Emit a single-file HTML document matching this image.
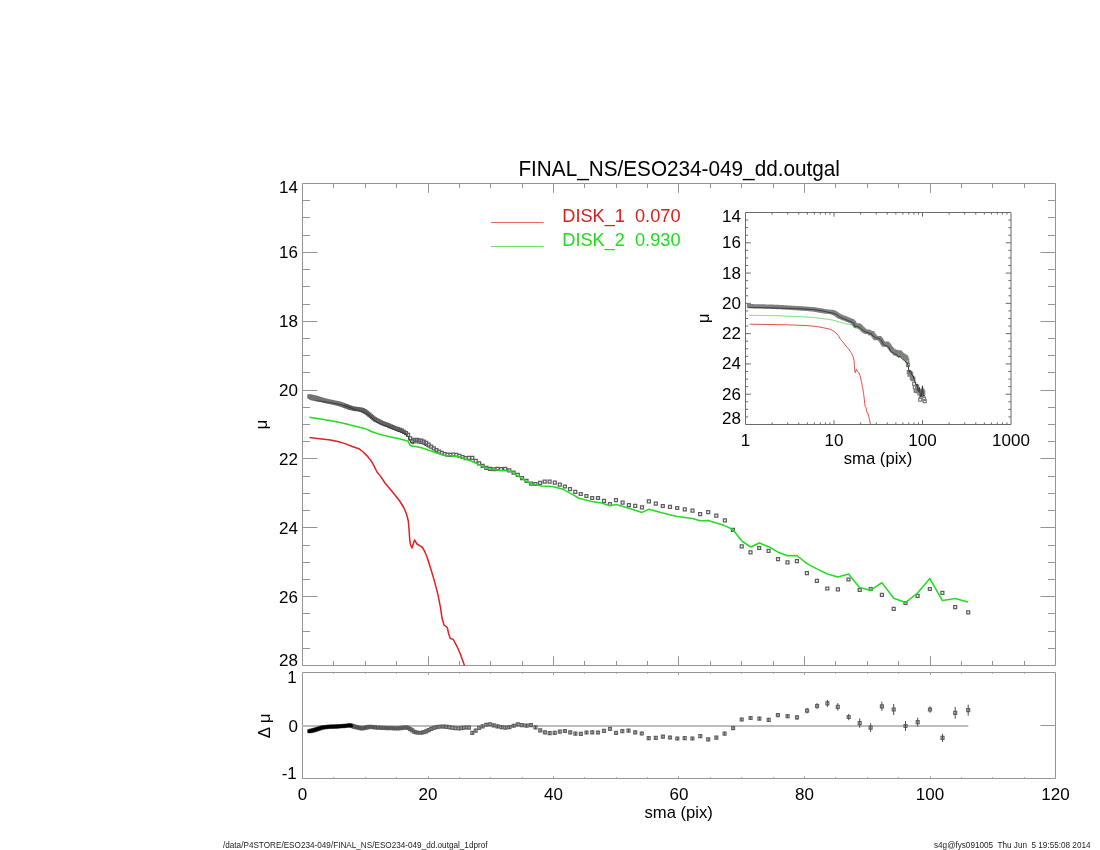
<!DOCTYPE html><html><head><meta charset="utf-8"><style>html,body{margin:0;padding:0;background:#fff;}svg{display:block;}text{font-family:"Liberation Sans",Arial,sans-serif;}</style></head><body>
<svg width="1100" height="850" viewBox="0 0 1100 850">
<rect x="0" y="0" width="1100" height="850" fill="#fff"/>
<path d="M302.5 183.5H1055.5V665.5H302.5ZM333.5 665.5v-4.6M333.5 183.5v4.6M365.5 665.5v-4.6M365.5 183.5v4.6M396.5 665.5v-4.6M396.5 183.5v4.6M428.5 665.5v-9.3M428.5 183.5v9.3M459.5 665.5v-4.6M459.5 183.5v4.6M490.5 665.5v-4.6M490.5 183.5v4.6M522.5 665.5v-4.6M522.5 183.5v4.6M553.5 665.5v-9.3M553.5 183.5v9.3M584.5 665.5v-4.6M584.5 183.5v4.6M616.5 665.5v-4.6M616.5 183.5v4.6M647.5 665.5v-4.6M647.5 183.5v4.6M678.5 665.5v-9.3M678.5 183.5v9.3M710.5 665.5v-4.6M710.5 183.5v4.6M741.5 665.5v-4.6M741.5 183.5v4.6M773.5 665.5v-4.6M773.5 183.5v4.6M804.5 665.5v-9.3M804.5 183.5v9.3M835.5 665.5v-4.6M835.5 183.5v4.6M867.5 665.5v-4.6M867.5 183.5v4.6M898.5 665.5v-4.6M898.5 183.5v4.6M930.5 665.5v-9.3M930.5 183.5v9.3M961.5 665.5v-4.6M961.5 183.5v4.6M992.5 665.5v-4.6M992.5 183.5v4.6M1024.5 665.5v-4.6M1024.5 183.5v4.6M302.5 200.5h7.5M1055.5 200.5h-7.5M302.5 217.5h7.5M1055.5 217.5h-7.5M302.5 235.5h7.5M1055.5 235.5h-7.5M302.5 252.5h15M1055.5 252.5h-15M302.5 269.5h7.5M1055.5 269.5h-7.5M302.5 286.5h7.5M1055.5 286.5h-7.5M302.5 304.5h7.5M1055.5 304.5h-7.5M302.5 321.5h15M1055.5 321.5h-15M302.5 338.5h7.5M1055.5 338.5h-7.5M302.5 355.5h7.5M1055.5 355.5h-7.5M302.5 372.5h7.5M1055.5 372.5h-7.5M302.5 390.5h15M1055.5 390.5h-15M302.5 407.5h7.5M1055.5 407.5h-7.5M302.5 424.5h7.5M1055.5 424.5h-7.5M302.5 441.5h7.5M1055.5 441.5h-7.5M302.5 458.5h15M1055.5 458.5h-15M302.5 476.5h7.5M1055.5 476.5h-7.5M302.5 493.5h7.5M1055.5 493.5h-7.5M302.5 510.5h7.5M1055.5 510.5h-7.5M302.5 527.5h15M1055.5 527.5h-15M302.5 545.5h7.5M1055.5 545.5h-7.5M302.5 562.5h7.5M1055.5 562.5h-7.5M302.5 579.5h7.5M1055.5 579.5h-7.5M302.5 596.5h15M1055.5 596.5h-15M302.5 613.5h7.5M1055.5 613.5h-7.5M302.5 631.5h7.5M1055.5 631.5h-7.5M302.5 648.5h7.5M1055.5 648.5h-7.5" fill="none" stroke="#959595" stroke-width="1"/>
<path d="M302.5 672.5H1055.5V778.5H302.5ZM333.5 778.5v-1.2M333.5 672.5v1.2M365.5 778.5v-1.2M365.5 672.5v1.2M396.5 778.5v-1.2M396.5 672.5v1.2M428.5 778.5v-2.2M428.5 672.5v2.2M459.5 778.5v-1.2M459.5 672.5v1.2M490.5 778.5v-1.2M490.5 672.5v1.2M522.5 778.5v-1.2M522.5 672.5v1.2M553.5 778.5v-2.2M553.5 672.5v2.2M584.5 778.5v-1.2M584.5 672.5v1.2M616.5 778.5v-1.2M616.5 672.5v1.2M647.5 778.5v-1.2M647.5 672.5v1.2M678.5 778.5v-2.2M678.5 672.5v2.2M710.5 778.5v-1.2M710.5 672.5v1.2M741.5 778.5v-1.2M741.5 672.5v1.2M773.5 778.5v-1.2M773.5 672.5v1.2M804.5 778.5v-2.2M804.5 672.5v2.2M835.5 778.5v-1.2M835.5 672.5v1.2M867.5 778.5v-1.2M867.5 672.5v1.2M898.5 778.5v-1.2M898.5 672.5v1.2M930.5 778.5v-2.2M930.5 672.5v2.2M961.5 778.5v-1.2M961.5 672.5v1.2M992.5 778.5v-1.2M992.5 672.5v1.2M1024.5 778.5v-1.2M1024.5 672.5v1.2M1055.5 725.5h-15" fill="none" stroke="#959595" stroke-width="1"/>
<path d="M302.5 726H968.28" fill="none" stroke="#bdbdbd" stroke-width="2"/>
<path d="M307.89 394.92h2.95v2.95h-2.95zM308.03 394.97h2.95v2.95h-2.95zM308.17 395.01h2.95v2.95h-2.95zM308.31 395.06h2.95v2.95h-2.95zM308.46 395.1h2.95v2.95h-2.95zM308.61 395.14h2.95v2.95h-2.95zM308.76 395.18h2.95v2.95h-2.95zM308.91 395.21h2.95v2.95h-2.95zM309.07 395.24h2.95v2.95h-2.95zM309.23 395.28h2.95v2.95h-2.95zM309.39 395.32h2.95v2.95h-2.95zM309.56 395.35h2.95v2.95h-2.95zM309.73 395.39h2.95v2.95h-2.95zM309.91 395.43h2.95v2.95h-2.95zM310.08 395.47h2.95v2.95h-2.95zM310.27 395.51h2.95v2.95h-2.95zM310.45 395.55h2.95v2.95h-2.95zM310.64 395.59h2.95v2.95h-2.95zM310.83 395.63h2.95v2.95h-2.95zM311.03 395.68h2.95v2.95h-2.95zM311.23 395.72h2.95v2.95h-2.95zM311.43 395.76h2.95v2.95h-2.95zM311.64 395.81h2.95v2.95h-2.95zM311.85 395.86h2.95v2.95h-2.95zM312.07 395.9h2.95v2.95h-2.95zM312.29 395.95h2.95v2.95h-2.95zM312.51 396h2.95v2.95h-2.95zM312.74 396.05h2.95v2.95h-2.95zM312.98 396.1h2.95v2.95h-2.95zM313.22 396.16h2.95v2.95h-2.95zM313.46 396.21h2.95v2.95h-2.95zM313.71 396.28h2.95v2.95h-2.95zM313.96 396.37h2.95v2.95h-2.95zM314.22 396.45h2.95v2.95h-2.95zM314.49 396.53h2.95v2.95h-2.95zM314.76 396.62h2.95v2.95h-2.95zM315.03 396.71h2.95v2.95h-2.95zM315.31 396.8h2.95v2.95h-2.95zM315.6 396.89h2.95v2.95h-2.95zM315.89 396.98h2.95v2.95h-2.95zM316.18 397.08h2.95v2.95h-2.95zM316.49 397.17h2.95v2.95h-2.95zM316.8 397.27h2.95v2.95h-2.95zM317.11 397.37h2.95v2.95h-2.95zM317.43 397.48h2.95v2.95h-2.95zM317.76 397.58h2.95v2.95h-2.95zM318.1 397.69h2.95v2.95h-2.95zM318.44 397.8h2.95v2.95h-2.95zM318.79 397.9h2.95v2.95h-2.95zM319.14 398h2.95v2.95h-2.95zM319.5 398.1h2.95v2.95h-2.95zM319.87 398.2h2.95v2.95h-2.95zM320.25 398.31h2.95v2.95h-2.95zM320.64 398.42h2.95v2.95h-2.95zM321.03 398.53h2.95v2.95h-2.95zM321.43 398.64h2.95v2.95h-2.95zM321.84 398.75h2.95v2.95h-2.95zM322.25 398.87h2.95v2.95h-2.95zM322.68 398.99h2.95v2.95h-2.95zM323.11 399.11h2.95v2.95h-2.95zM323.55 399.23h2.95v2.95h-2.95zM324 399.33h2.95v2.95h-2.95zM324.46 399.43h2.95v2.95h-2.95zM324.93 399.53h2.95v2.95h-2.95zM325.41 399.64h2.95v2.95h-2.95zM325.9 399.75h2.95v2.95h-2.95zM326.39 399.86h2.95v2.95h-2.95zM326.9 399.97h2.95v2.95h-2.95zM327.42 400.08h2.95v2.95h-2.95zM327.95 400.2h2.95v2.95h-2.95zM328.48 400.32h2.95v2.95h-2.95zM329.03 400.43h2.95v2.95h-2.95zM329.59 400.54h2.95v2.95h-2.95zM330.17 400.65h2.95v2.95h-2.95zM330.75 400.77h2.95v2.95h-2.95zM331.34 400.89h2.95v2.95h-2.95zM331.95 401.01h2.95v2.95h-2.95zM332.57 401.13h2.95v2.95h-2.95zM333.2 401.26h2.95v2.95h-2.95zM333.84 401.4h2.95v2.95h-2.95zM334.5 401.56h2.95v2.95h-2.95zM335.17 401.72h2.95v2.95h-2.95zM335.85 401.88h2.95v2.95h-2.95zM336.55 402.05h2.95v2.95h-2.95zM337.26 402.22h2.95v2.95h-2.95zM337.98 402.39h2.95v2.95h-2.95zM338.72 402.6h2.95v2.95h-2.95zM339.47 402.87h2.95v2.95h-2.95zM340.24 403.14h2.95v2.95h-2.95zM341.03 403.43h2.95v2.95h-2.95zM341.83 403.71h2.95v2.95h-2.95zM342.64 404.01h2.95v2.95h-2.95zM343.48 404.31h2.95v2.95h-2.95z" fill="none" stroke="#727272" stroke-width="1.25"/>
<path d="M344.33 404.63h2.95v2.95h-2.95zM345.19 404.96h2.95v2.95h-2.95zM346.08 405.29h2.95v2.95h-2.95zM346.98 405.64h2.95v2.95h-2.95zM347.9 405.99h2.95v2.95h-2.95zM348.83 406.3h2.95v2.95h-2.95zM349.79 406.53h2.95v2.95h-2.95zM350.76 406.76h2.95v2.95h-2.95zM351.76 407h2.95v2.95h-2.95zM352.77 407.24h2.95v2.95h-2.95zM353.81 407.45h2.95v2.95h-2.95zM354.86 407.56h2.95v2.95h-2.95zM355.94 407.67h2.95v2.95h-2.95zM357.04 407.78h2.95v2.95h-2.95zM358.16 407.89h2.95v2.95h-2.95zM359.3 408.16h2.95v2.95h-2.95zM360.47 408.51h2.95v2.95h-2.95zM361.66 408.9h2.95v2.95h-2.95zM362.87 409.63h2.95v2.95h-2.95zM364.11 410.37h2.95v2.95h-2.95zM365.37 411.27h2.95v2.95h-2.95zM366.65 412.26h2.95v2.95h-2.95zM367.97 413.32h2.95v2.95h-2.95zM369.31 414.53h2.95v2.95h-2.95zM370.67 415.74h2.95v2.95h-2.95zM372.06 416.86h2.95v2.95h-2.95zM373.49 417.99h2.95v2.95h-2.95zM374.93 418.73h2.95v2.95h-2.95zM376.41 419.47h2.95v2.95h-2.95zM377.92 420.18h2.95v2.95h-2.95zM379.46 420.89h2.95v2.95h-2.95zM381.03 421.58h2.95v2.95h-2.95zM382.63 422.26h2.95v2.95h-2.95zM384.26 422.86h2.95v2.95h-2.95zM385.92 423.48h2.95v2.95h-2.95zM387.62 424.16h2.95v2.95h-2.95zM389.35 424.86h2.95v2.95h-2.95zM391.12 425.56h2.95v2.95h-2.95zM392.92 426.28h2.95v2.95h-2.95zM394.76 427.01h2.95v2.95h-2.95zM396.63 427.7h2.95v2.95h-2.95zM398.55 428.43h2.95v2.95h-2.95zM400.5 429.21h2.95v2.95h-2.95zM402.49 430.34h2.95v2.95h-2.95zM404.52 431.72h2.95v2.95h-2.95zM406.59 433.43h2.95v2.95h-2.95zM408.7 436.98h2.95v2.95h-2.95zM410.85 439.56h2.95v2.95h-2.95zM413.05 438.46h2.95v2.95h-2.95zM415.29 438.48h2.95v2.95h-2.95zM417.57 438.82h2.95v2.95h-2.95zM419.9 439.16h2.95v2.95h-2.95zM422.28 440.22h2.95v2.95h-2.95zM424.71 441.46h2.95v2.95h-2.95zM427.18 443.1h2.95v2.95h-2.95zM429.7 445.11h2.95v2.95h-2.95zM432.28 446.96h2.95v2.95h-2.95zM434.9 448.53h2.95v2.95h-2.95zM437.58 450.05h2.95v2.95h-2.95zM440.31 451.42h2.95v2.95h-2.95zM443.1 452.52h2.95v2.95h-2.95zM445.94 453.09h2.95v2.95h-2.95zM448.84 453.31h2.95v2.95h-2.95zM451.79 453.04h2.95v2.95h-2.95zM454.81 453.44h2.95v2.95h-2.95zM457.88 454.34h2.95v2.95h-2.95zM461.02 455.52h2.95v2.95h-2.95zM464.22 456.71h2.95v2.95h-2.95zM467.48 456.41h2.95v2.95h-2.95zM470.81 456.38h2.95v2.95h-2.95zM474.21 459.39h2.95v2.95h-2.95zM477.67 461.96h2.95v2.95h-2.95zM481.21 464.34h2.95v2.95h-2.95zM484.81 466.43h2.95v2.95h-2.95zM488.48 467.42h2.95v2.95h-2.95zM492.23 467.75h2.95v2.95h-2.95zM496.06 467.47h2.95v2.95h-2.95zM499.62 467.62h2.95v2.95h-2.95zM503.72 467.32h2.95v2.95h-2.95zM507.82 468.92h2.95v2.95h-2.95zM512.12 471.12h2.95v2.95h-2.95zM516.32 473.42h2.95v2.95h-2.95zM520.62 476.62h2.95v2.95h-2.95zM525.02 479.42h2.95v2.95h-2.95zM529.62 482.12h2.95v2.95h-2.95zM534.02 482.52h2.95v2.95h-2.95zM538.62 481.42h2.95v2.95h-2.95zM543.23 480.12h2.95v2.95h-2.95zM548.12 480.12h2.95v2.95h-2.95zM553.32 481.22h2.95v2.95h-2.95zM558.32 483.22h2.95v2.95h-2.95zM563.42 485.02h2.95v2.95h-2.95zM568.52 487.62h2.95v2.95h-2.95zM573.82 490.32h2.95v2.95h-2.95zM579.23 492.52h2.95v2.95h-2.95zM584.92 494.52h2.95v2.95h-2.95zM590.73 496.52h2.95v2.95h-2.95zM596.52 496.52h2.95v2.95h-2.95zM602.52 499.32h2.95v2.95h-2.95zM608.52 502.52h2.95v2.95h-2.95zM614.52 498.62h2.95v2.95h-2.95zM621.12 501.22h2.95v2.95h-2.95zM627.42 503.62h2.95v2.95h-2.95zM633.73 504.32h2.95v2.95h-2.95zM640.52 505.92h2.95v2.95h-2.95zM647.42 499.92h2.95v2.95h-2.95zM654.32 502.12h2.95v2.95h-2.95zM661.32 504.52h2.95v2.95h-2.95zM668.52 505.42h2.95v2.95h-2.95zM675.73 506.52h2.95v2.95h-2.95zM683.32 507.92h2.95v2.95h-2.95zM691.02 509.12h2.95v2.95h-2.95zM698.62 512.73h2.95v2.95h-2.95zM706.73 510.62h2.95v2.95h-2.95zM714.82 514.12h2.95v2.95h-2.95zM723.42 518.92h2.95v2.95h-2.95zM731.42 528.32h2.95v2.95h-2.95zM740.23 544.82h2.95v2.95h-2.95zM749.02 550.82h2.95v2.95h-2.95zM757.73 546.52h2.95v2.95h-2.95zM767.12 549.32h2.95v2.95h-2.95zM776.52 557.62h2.95v2.95h-2.95zM786.02 560.82h2.95v2.95h-2.95zM795.42 559.73h2.95v2.95h-2.95zM805.42 571.73h2.95v2.95h-2.95zM815.42 579.42h2.95v2.95h-2.95zM825.82 587.02h2.95v2.95h-2.95zM836.42 587.82h2.95v2.95h-2.95zM847.02 578.02h2.95v2.95h-2.95zM858.23 588.52h2.95v2.95h-2.95zM869.23 587.52h2.95v2.95h-2.95zM880.42 593.42h2.95v2.95h-2.95zM892.23 607.42h2.95v2.95h-2.95zM904.02 601.52h2.95v2.95h-2.95zM916.12 594.42h2.95v2.95h-2.95zM928.32 587.52h2.95v2.95h-2.95zM940.92 591.32h2.95v2.95h-2.95zM953.73 605.62h2.95v2.95h-2.95zM966.73 610.92h2.95v2.95h-2.95z" fill="none" stroke="#5e5e5e" stroke-width="1.25"/>
<polyline fill="none" stroke="#333" stroke-width="1" stroke-linejoin="round"  points="309.37,399.3 309.5,399.34 309.64,399.39 309.79,399.43 309.93,399.48 310.08,399.52 310.23,399.55 310.39,399.59 310.54,399.62 310.71,399.66 310.87,399.69 311.04,399.73 311.21,399.77 311.38,399.8 311.56,399.84 311.74,399.88 311.93,399.92 312.11,399.96 312.31,400.01 312.5,400.05 312.7,400.09 312.91,400.14 313.11,400.19 313.33,400.23 313.54,400.28 313.76,400.33 313.99,400.38 314.22,400.43 314.45,400.48 314.69,400.53 314.94,400.59 315.18,400.66 315.44,400.74 315.7,400.82 315.96,400.88 316.23,400.9 316.51,400.93 316.79,400.95 317.07,400.97 317.36,401 317.66,401.02 317.96,401.05 318.27,401.08 318.59,401.1 318.91,401.13 319.24,401.16 319.57,401.19 319.91,401.22 320.26,401.24 320.62,401.25 320.98,401.27 321.35,401.28 321.73,401.3 322.11,401.36 322.5,401.44 322.9,401.52 323.31,401.59 323.73,401.67 324.15,401.76 324.58,401.84 325.03,401.92 325.48,401.98 325.94,402.04 326.41,402.1 326.88,402.17 327.37,402.23 327.87,402.3 328.38,402.36 328.89,402.43 329.42,402.52 329.96,402.63 330.51,402.73 331.07,402.83 331.64,402.94 332.22,403.04 332.82,403.15 333.42,403.26 334.04,403.37 334.67,403.48 335.32,403.61 335.97,403.76 336.64,403.9 337.33,404.03 338.02,404.16 338.73,404.29 339.46,404.43 340.2,404.6 340.95,404.83 341.72,405.07 342.5,405.31 343.3,405.56 344.12,405.8 344.95,406.04 345.8,406.29 346.67,406.56 347.55,406.83 348.45,407.1 349.37,407.38 350.31,407.66 351.26,408.1 352.24,408.55 353.23,409.01 354.25,409.48 355.28,409.93 356.34,410.19 357.42,410.47 358.51,410.75 359.63,411.03 360.78,411.48 361.94,411.96 363.13,412.19 364.34,412.74 365.58,413.31 366.84,414.03 368.13,414.83 369.44,415.71 370.78,416.95 372.15,418.28 373.54,419.51 374.96,420.77 376.41,421.63 377.89,422.43 379.4,423.2 380.93,423.98 382.5,424.72 384.1,425.47 385.73,426.13 387.4,426.82 389.1,427.53 390.83,428.26 392.6,429 394.4,429.76 396.24,430.52 398.11,431.24 400.02,431.82 401.97,432.42 403.96,433.36 405.99,434.56 408.06,436.64 410.17,441.03 412.33,443.94 414.52,442.84 416.76,442.86 419.05,443.2 421.38,443.54 423.76,444.6 426.18,445.83 428.66,447.48"/>
<polyline fill="none" stroke="#22dd22" stroke-width="1.55" stroke-linejoin="round"  points="309.37,417.3 309.5,417.3 309.64,417.32 309.79,417.34 309.93,417.37 310.08,417.39 310.23,417.41 310.39,417.43 310.54,417.46 310.71,417.48 310.87,417.51 311.04,417.53 311.21,417.56 311.38,417.58 311.56,417.61 311.74,417.64 311.93,417.67 312.11,417.7 312.31,417.72 312.5,417.75 312.7,417.78 312.91,417.82 313.11,417.85 313.33,417.88 313.54,417.91 313.76,417.94 313.99,417.98 314.22,418.01 314.45,418.05 314.69,418.09 314.94,418.12 315.18,418.16 315.44,418.2 315.7,418.24 315.96,418.28 316.23,418.32 316.51,418.36 316.79,418.4 317.07,418.45 317.36,418.49 317.66,418.53 317.96,418.58 318.27,418.63 318.59,418.67 318.91,418.72 319.24,418.77 319.57,418.82 319.91,418.88 320.26,418.93 320.62,418.98 320.98,419.04 321.35,419.09 321.73,419.16 322.11,419.22 322.5,419.29 322.9,419.36 323.31,419.43 323.73,419.51 324.15,419.58 324.58,419.66 325.03,419.73 325.48,419.81 325.94,419.89 326.41,419.97 326.88,420.06 327.37,420.14 327.87,420.23 328.38,420.32 328.89,420.41 329.42,420.5 329.96,420.59 330.51,420.69 331.07,420.79 331.64,420.88 332.22,420.99 332.82,421.1 333.42,421.23 334.04,421.35 334.67,421.48 335.32,421.61 335.97,421.74 336.64,421.88 337.33,422.01 338.02,422.15 338.73,422.3 339.46,422.44 340.2,422.59 340.95,422.75 341.72,422.9 342.5,423.06 343.3,423.23 344.12,423.43 344.95,423.63 345.8,423.84 346.67,424.06 347.55,424.28 348.45,424.5 349.37,424.73 350.31,424.96 351.26,425.2 352.24,425.44 353.23,425.69 354.25,425.94 355.28,426.19 356.34,426.45 357.42,426.72 358.51,426.99 359.63,427.27 360.78,427.55 361.94,427.84 363.13,428.14 364.34,428.44 365.58,428.86 366.84,429.41 368.13,429.97 369.44,430.57 370.78,431.21 372.15,431.85 373.54,432.32 374.96,432.81 376.41,433.3 377.89,433.76 379.4,434.17 380.93,434.59 382.5,435.01 384.1,435.42 385.73,435.83 387.4,436.24 389.1,436.66 390.83,437.08 392.6,437.37 394.4,437.65 396.24,437.96 398.11,438.48 400.02,438.93 401.97,439.39 403.96,439.96 405.99,440.55 408.06,441.19 410.17,445.37 412.33,446.33 414.52,446.34 416.76,446.72 419.05,447.27 421.38,447.73 423.76,448.48 426.18,449.33 428.66,450.19 431.18,451.07 433.75,451.98 436.38,452.92 439.05,453.87 441.79,454.85 444.57,455.54 447.41,455.67 450.31,455.81 453.27,455.94 456.28,456.36 459.36,456.97 462.5,457.97 465.7,459.09 468.96,460.22 472.29,461.52 475.68,463.05 479.15,464.61 482.68,466.18 486.28,467.72 489.96,469.14 493.71,469.44 497.53,469.75 500,470.2 510.9,471.3 521.8,478.4 530.5,483.8 541.5,486 552.4,486.5 563.3,489.3 570.9,493.6 579.6,498.5 590.5,501.3 601.5,502.9 610,505.8 616.1,504.6 628.9,508.2 642,512.4 648.9,509.3 662.7,513.1 677.2,516.4 692.5,518.5 700.1,520.7 708.2,520.4 716.3,523 724.5,525.6 732.8,529.5 741.6,540.8 750.6,547 759.4,543 768.6,546.7 778,552.2 787.5,555.8 796.9,555.5 806.9,563.6 816.9,568.9 827.3,574 837.9,576.9 848.5,574 859.5,587.5 870.7,590.2 881.9,582.6 893.7,598.3 905.5,602.5 917.5,593.1 929.8,578.5 942.4,600.6 955.2,598.5 967.8,602.1"/>
<polyline fill="none" stroke="#dd2222" stroke-width="1.5" stroke-linejoin="round"  points="309.5,437.5 319.5,438.7 330.5,440.1 337.7,441.5 345,443.6 352.3,446.5 358.8,448.7 363.2,452 366.8,455.6 370.5,460 373.4,464.7 377,472 380.6,476.4 385,483 390,489 395,495 400,501.5 404,508 406.5,514 408.3,521 409,529 409.7,539 410.5,545 412,548 414.5,540 417,544 420,545.8 422,547 424.5,551 427,557 430.6,568.3 434.6,581.6 438,594.9 440.6,608.2 441.9,617.5 443.9,624.8 447.3,627.5 448.6,633.5 450.3,638.5 453.2,639.4 457.2,646.8 460.6,654.7 464.5,665.4"/>
<path d="M307.89 729.79h2.95v2.95h-2.95zM308.03 729.75h2.95v2.95h-2.95zM308.17 729.72h2.95v2.95h-2.95zM308.31 729.68h2.95v2.95h-2.95zM308.46 729.65h2.95v2.95h-2.95zM308.61 729.61h2.95v2.95h-2.95zM308.76 729.57h2.95v2.95h-2.95zM308.91 729.54h2.95v2.95h-2.95zM309.07 729.5h2.95v2.95h-2.95zM309.23 729.46h2.95v2.95h-2.95zM309.39 729.42h2.95v2.95h-2.95zM309.56 729.38h2.95v2.95h-2.95zM309.73 729.33h2.95v2.95h-2.95zM309.91 729.29h2.95v2.95h-2.95zM310.08 729.25h2.95v2.95h-2.95zM310.27 729.2h2.95v2.95h-2.95zM310.45 729.16h2.95v2.95h-2.95zM310.64 729.11h2.95v2.95h-2.95zM310.83 729.06h2.95v2.95h-2.95zM311.03 729.02h2.95v2.95h-2.95zM311.23 728.97h2.95v2.95h-2.95zM311.43 728.92h2.95v2.95h-2.95zM311.64 728.87h2.95v2.95h-2.95zM311.85 728.81h2.95v2.95h-2.95zM312.07 728.76h2.95v2.95h-2.95zM312.29 728.71h2.95v2.95h-2.95zM312.51 728.65h2.95v2.95h-2.95zM312.74 728.59h2.95v2.95h-2.95zM312.98 728.54h2.95v2.95h-2.95zM313.22 728.46h2.95v2.95h-2.95zM313.46 728.38h2.95v2.95h-2.95zM313.71 728.3h2.95v2.95h-2.95zM313.96 728.22h2.95v2.95h-2.95zM314.22 728.13h2.95v2.95h-2.95zM314.49 728.04h2.95v2.95h-2.95zM314.76 727.96h2.95v2.95h-2.95zM315.03 727.87h2.95v2.95h-2.95zM315.31 727.77h2.95v2.95h-2.95zM315.6 727.68h2.95v2.95h-2.95zM315.89 727.58h2.95v2.95h-2.95zM316.18 727.49h2.95v2.95h-2.95zM316.49 727.39h2.95v2.95h-2.95zM316.8 727.28h2.95v2.95h-2.95zM317.11 727.18h2.95v2.95h-2.95zM317.43 727.08h2.95v2.95h-2.95zM317.76 726.97h2.95v2.95h-2.95zM318.1 726.86h2.95v2.95h-2.95zM318.44 726.75h2.95v2.95h-2.95zM318.79 726.63h2.95v2.95h-2.95zM319.14 726.51h2.95v2.95h-2.95zM319.5 726.39h2.95v2.95h-2.95zM319.87 726.27h2.95v2.95h-2.95zM320.25 726.15h2.95v2.95h-2.95zM320.64 726.09h2.95v2.95h-2.95zM321.03 726.04h2.95v2.95h-2.95zM321.43 725.99h2.95v2.95h-2.95zM321.84 725.94h2.95v2.95h-2.95zM322.25 725.89h2.95v2.95h-2.95zM322.68 725.84h2.95v2.95h-2.95zM323.11 725.78h2.95v2.95h-2.95zM323.55 725.73h2.95v2.95h-2.95zM324 725.67h2.95v2.95h-2.95zM324.46 725.62h2.95v2.95h-2.95zM324.93 725.56h2.95v2.95h-2.95zM325.41 725.5h2.95v2.95h-2.95zM325.9 725.44h2.95v2.95h-2.95zM326.39 725.38h2.95v2.95h-2.95zM326.9 725.31h2.95v2.95h-2.95zM327.42 725.25h2.95v2.95h-2.95zM327.95 725.22h2.95v2.95h-2.95zM328.48 725.2h2.95v2.95h-2.95zM329.03 725.19h2.95v2.95h-2.95zM329.59 725.17h2.95v2.95h-2.95zM330.17 725.16h2.95v2.95h-2.95zM330.75 725.14h2.95v2.95h-2.95zM331.34 725.12h2.95v2.95h-2.95zM331.95 725.11h2.95v2.95h-2.95zM332.57 725.09h2.95v2.95h-2.95zM333.2 725.07h2.95v2.95h-2.95zM333.84 725.05h2.95v2.95h-2.95zM334.5 725.04h2.95v2.95h-2.95zM335.17 725.01h2.95v2.95h-2.95zM335.85 724.96h2.95v2.95h-2.95zM336.55 724.91h2.95v2.95h-2.95zM337.26 724.86h2.95v2.95h-2.95zM337.98 724.81h2.95v2.95h-2.95zM338.72 724.76h2.95v2.95h-2.95zM339.47 724.71h2.95v2.95h-2.95zM340.24 724.66h2.95v2.95h-2.95zM341.03 724.6h2.95v2.95h-2.95zM341.83 724.55h2.95v2.95h-2.95zM342.64 724.47h2.95v2.95h-2.95zM343.48 724.38h2.95v2.95h-2.95zM344.33 724.29h2.95v2.95h-2.95zM345.19 724.2h2.95v2.95h-2.95zM346.08 724.11h2.95v2.95h-2.95zM346.98 724.01h2.95v2.95h-2.95zM347.9 723.91h2.95v2.95h-2.95zM348.83 723.86h2.95v2.95h-2.95zM349.79 724.16h2.95v2.95h-2.95zM350.76 724.46h2.95v2.95h-2.95zM351.76 724.78h2.95v2.95h-2.95zM352.77 725.1h2.95v2.95h-2.95zM353.81 725.42h2.95v2.95h-2.95zM354.86 725.65h2.95v2.95h-2.95zM355.94 725.88h2.95v2.95h-2.95zM357.04 726.12h2.95v2.95h-2.95zM358.16 726.36h2.95v2.95h-2.95zM359.3 726.6h2.95v2.95h-2.95zM360.47 726.8h2.95v2.95h-2.95zM361.66 726.56h2.95v2.95h-2.95zM362.87 726.32h2.95v2.95h-2.95zM364.11 726.07h2.95v2.95h-2.95zM365.37 725.82h2.95v2.95h-2.95zM366.65 725.56h2.95v2.95h-2.95zM367.97 725.3h2.95v2.95h-2.95zM369.31 725.34h2.95v2.95h-2.95zM370.67 725.51h2.95v2.95h-2.95zM372.06 725.68h2.95v2.95h-2.95zM373.49 725.85h2.95v2.95h-2.95zM374.93 726.03h2.95v2.95h-2.95zM376.41 726.11h2.95v2.95h-2.95zM377.92 726.19h2.95v2.95h-2.95zM379.46 726.27h2.95v2.95h-2.95zM381.03 726.36h2.95v2.95h-2.95zM382.63 726.45h2.95v2.95h-2.95zM384.26 726.54h2.95v2.95h-2.95zM385.92 726.63h2.95v2.95h-2.95zM387.62 726.67h2.95v2.95h-2.95zM389.35 726.72h2.95v2.95h-2.95zM391.12 726.77h2.95v2.95h-2.95zM392.92 726.82h2.95v2.95h-2.95zM394.76 726.87h2.95v2.95h-2.95zM396.63 726.92h2.95v2.95h-2.95zM398.55 726.69h2.95v2.95h-2.95zM400.5 726.45h2.95v2.95h-2.95zM402.49 726.2h2.95v2.95h-2.95zM404.52 725.94h2.95v2.95h-2.95zM406.59 726.46h2.95v2.95h-2.95zM408.7 727.62h2.95v2.95h-2.95zM410.85 728.9h2.95v2.95h-2.95zM413.05 730.3h2.95v2.95h-2.95zM415.29 731.04h2.95v2.95h-2.95zM417.57 731.25h2.95v2.95h-2.95zM419.9 731.29h2.95v2.95h-2.95zM422.28 730.59h2.95v2.95h-2.95zM424.71 729.89h2.95v2.95h-2.95zM427.18 728.66h2.95v2.95h-2.95zM429.7 727.35h2.95v2.95h-2.95zM432.28 726.46h2.95v2.95h-2.95zM434.9 725.69h2.95v2.95h-2.95zM437.58 725.26h2.95v2.95h-2.95zM440.31 725.01h2.95v2.95h-2.95zM443.1 725.1h2.95v2.95h-2.95zM445.94 725.35h2.95v2.95h-2.95zM448.84 725.85h2.95v2.95h-2.95zM451.79 726.46h2.95v2.95h-2.95zM454.81 726.77h2.95v2.95h-2.95zM457.88 726.98h2.95v2.95h-2.95zM461.02 726.4h2.95v2.95h-2.95zM464.22 726.02h2.95v2.95h-2.95zM467.48 726.12h2.95v2.95h-2.95zM470.81 731.37h2.95v2.95h-2.95zM474.21 729.07h2.95v2.95h-2.95zM477.67 726.34h2.95v2.95h-2.95zM481.21 724.85h2.95v2.95h-2.95zM484.81 723.28h2.95v2.95h-2.95zM488.48 722.76h2.95v2.95h-2.95zM492.23 723.89h2.95v2.95h-2.95zM496.06 724.97h2.95v2.95h-2.95zM499.96 725.73h2.95v2.95h-2.95zM503.94 726.21h2.95v2.95h-2.95zM508 725.67h2.95v2.95h-2.95zM512.14 724.26h2.95v2.95h-2.95zM516.36 722.93h2.95v2.95h-2.95zM520.66 723.64h2.95v2.95h-2.95zM525.06 724.12h2.95v2.95h-2.95zM529.42 723.73h2.95v2.95h-2.95zM534.02 725.92h2.95v2.95h-2.95zM538.73 728.92h2.95v2.95h-2.95zM543.42 730.82h2.95v2.95h-2.95zM548.23 731.62h2.95v2.95h-2.95zM553.23 731.32h2.95v2.95h-2.95zM558.32 730.23h2.95v2.95h-2.95zM563.42 729.52h2.95v2.95h-2.95zM568.73 730.82h2.95v2.95h-2.95zM573.92 732.12h2.95v2.95h-2.95zM579.42 732.42h2.95v2.95h-2.95zM585.02 731.02h2.95v2.95h-2.95zM590.73 730.82h2.95v2.95h-2.95zM596.52 731.02h2.95v2.95h-2.95zM602.52 729.42h2.95v2.95h-2.95zM608.52 727.32h2.95v2.95h-2.95zM614.52 731.32h2.95v2.95h-2.95zM620.82 729.73h2.95v2.95h-2.95zM627.02 729.23h2.95v2.95h-2.95zM633.73 730.82h2.95v2.95h-2.95zM640.32 732.02h2.95v2.95h-2.95zM647.23 736.73h2.95v2.95h-2.95zM654.32 736.42h2.95v2.95h-2.95zM661.42 735.23h2.95v2.95h-2.95zM668.52 736.02h2.95v2.95h-2.95zM675.82 737.02h2.95v2.95h-2.95zM683.23 736.73h2.95v2.95h-2.95zM690.92 737.02h2.95v2.95h-2.95zM698.82 734.62h2.95v2.95h-2.95zM706.73 737.92h2.95v2.95h-2.95zM714.82 736.12h2.95v2.95h-2.95zM723.12 732.23h2.95v2.95h-2.95zM731.62 726.62h2.95v2.95h-2.95zM740.23 718.02h2.95v2.95h-2.95zM749.12 716.52h2.95v2.95h-2.95zM757.92 717.12h2.95v2.95h-2.95zM767.23 718.42h2.95v2.95h-2.95zM776.42 713.62h2.95v2.95h-2.95zM786.12 714.73h2.95v2.95h-2.95zM795.52 715.92h2.95v2.95h-2.95zM805.62 709.23h2.95v2.95h-2.95zM815.62 704.52h2.95v2.95h-2.95zM825.92 701.92h2.95v2.95h-2.95zM836.32 705.42h2.95v2.95h-2.95zM847.23 715.52h2.95v2.95h-2.95zM858.23 721.62h2.95v2.95h-2.95zM869.12 726.23h2.95v2.95h-2.95zM880.42 704.82h2.95v2.95h-2.95zM892.23 708.02h2.95v2.95h-2.95zM904.02 724.52h2.95v2.95h-2.95zM916.23 720.73h2.95v2.95h-2.95zM928.52 708.02h2.95v2.95h-2.95zM941.02 736.42h2.95v2.95h-2.95zM953.73 711.32h2.95v2.95h-2.95zM966.73 708.62h2.95v2.95h-2.95z" fill="none" stroke="#686868" stroke-width="1.25"/>
<path d="M309.37 729.46V733.06M309.5 729.43V733.03M309.64 729.39V732.99M309.79 729.36V732.96M309.93 729.32V732.92M310.08 729.29V732.89M310.23 729.25V732.85M310.39 729.21V732.81M310.54 729.17V732.77M310.71 729.13V732.73M310.87 729.09V732.69M311.04 729.05V732.65M311.21 729.01V732.61M311.38 728.97V732.57M311.56 728.92V732.52M311.74 728.88V732.48M311.93 728.83V732.43M312.11 728.79V732.39M312.31 728.74V732.34M312.5 728.69V732.29M312.7 728.64V732.24M312.91 728.59V732.19M313.11 728.54V732.14M313.33 728.49V732.09M313.54 728.44V732.04M313.76 728.38V731.98M313.99 728.33V731.93M314.22 728.27V731.87M314.45 728.21V731.81M314.69 728.14V731.74M314.94 728.06V731.66M315.18 727.97V731.57M315.44 727.89V731.49M315.7 727.81V731.41M315.96 727.72V731.32M316.23 727.63V731.23M316.51 727.54V731.14M316.79 727.45V731.05M317.07 727.35V730.95M317.36 727.26V730.86M317.66 727.16V730.76M317.96 727.06V730.66M318.27 726.96V730.56M318.59 726.86V730.46M318.91 726.75V730.35M319.24 726.64V730.24M319.57 726.53V730.13M319.91 726.42V730.02M320.26 726.31V729.91M320.62 726.19V729.79M320.98 726.07V729.67M321.35 725.95V729.55M321.73 725.82V729.42M322.11 725.76V729.36M322.5 725.71V729.31M322.9 725.66V729.26M323.31 725.61V729.21M323.73 725.56V729.16M324.15 725.51V729.11M324.58 725.46V729.06M325.03 725.4V729M325.48 725.35V728.95M325.94 725.29V728.89M326.41 725.23V728.83M326.88 725.17V728.77M327.37 725.11V728.71M327.87 725.05V728.65M328.38 724.99V728.59M328.89 724.93V728.53M329.42 724.89V728.49M329.96 724.88V728.48M330.51 724.86V728.46M331.07 724.85V728.45M331.64 724.83V728.43M332.22 724.81V728.41M332.82 724.8V728.4M333.42 724.78V728.38M334.04 724.76V728.36M334.67 724.75V728.35M335.32 724.73V728.33M335.97 724.71V728.31M336.64 724.68V728.28M337.33 724.64V728.24M338.02 724.59V728.19M338.73 724.54V728.14M339.46 724.49V728.09M340.2 724.44V728.04M340.95 724.38V727.98M341.72 724.33V727.93M342.5 724.28V727.88M343.3 724.22V727.82M344.12 724.14V727.74M344.95 724.06V727.66M345.8 723.97V727.57M346.67 723.87V727.47M347.55 723.78V727.38M348.45 723.69V727.29M349.37 723.59V727.19M350.31 723.53V727.13M351.26 723.83V727.43M352.24 724.14V727.74M353.23 724.45V728.05M354.25 724.77V728.37M355.28 725.09V728.69M356.34 725.32V728.92M357.42 725.56V729.16M358.51 725.79V729.39M359.63 726.03V729.63M360.78 726.28V729.88M361.94 726.47V730.07M363.13 726.23V729.83M364.34 725.99V729.59M365.58 725.74V729.34M366.84 725.49V729.09M368.13 725.23V728.83M369.44 724.97V728.57M370.78 725.02V728.62M372.15 725.18V728.78M373.54 725.35V728.95M374.96 725.53V729.13M376.41 725.7V729.3M377.89 725.78V729.38M379.4 725.86V729.46M380.93 725.95V729.55M382.5 726.04V729.64M384.1 726.12V729.72M385.73 726.21V729.81M387.4 726.3V729.9M389.1 726.35V729.95M390.83 726.4V730M392.6 726.45V730.05M394.4 726.5V730.1M396.24 726.55V730.15M398.11 726.6V730.2M400.02 726.37V729.97M401.97 726.12V729.72M403.96 725.87V729.47M405.99 725.61V729.21M408.06 726.14V729.74M410.17 727.29V730.89M412.33 728.58V732.18M414.52 729.98V733.58M416.76 730.72V734.32M419.05 730.93V734.53M421.38 730.96V734.56M423.76 730.27V733.87M426.18 729.56V733.16M428.66 728.33V731.93M431.18 727.02V730.62M433.75 726.13V729.73M436.38 725.37V728.97M439.05 724.94V728.54M441.79 724.68V728.28M444.57 724.77V728.37M447.41 725.03V728.63M450.31 725.53V729.13M453.27 726.13V729.73M456.28 726.44V730.04M459.36 726.65V730.25M462.5 726.07V729.67M465.7 725.7V729.3M468.96 725.8V729.4M472.29 731.04V734.64M475.68 728.74V732.34M479.15 726.01V729.61M482.68 724.52V728.12M486.28 722.95V726.55M489.96 722.43V726.03M493.71 723.56V727.16M497.53 724.65V728.25M501.43 725.4V729M505.41 725.89V729.49M509.47 725.34V728.94M513.61 723.93V727.53M517.83 722.61V726.21M522.14 723.32V726.92M526.53 723.8V727.4M530.9 723.4V727M535.5 725.6V729.2M540.2 728.6V732.2M544.9 730.5V734.1M549.7 731.3V734.9M554.7 731V734.6M559.8 729.9V733.5M564.9 729.2V732.8M570.2 730.5V734.1M575.4 731.8V735.4M580.9 732.1V735.7M586.5 730.7V734.3M592.2 730.5V734.1M598 730.7V734.3M604 729.1V732.7M610 727V730.6M616 731V734.6M622.3 729.4V733M628.5 728.9V732.5M635.2 730.5V734.1M641.8 731.7V735.3M648.7 736.4V740M655.8 736.1V739.7M662.9 734.9V738.5M670 735.7V739.3M677.3 736.7V740.3M684.7 736.4V740M692.4 736.7V740.3M700.3 734.3V737.9M708.2 737.6V741.2M716.3 735.8V739.4M724.6 731.9V735.5M733.1 726.3V729.9M741.7 717.7V721.3M750.6 716.2V719.8M759.4 716.8V720.4M768.7 718.1V721.7M777.9 713.3V716.9M787.6 714.12V718.28M797 714.97V719.83M807.1 707.9V713.5M817.1 703V709M827.4 699.9V706.9M837.8 703.1V710.7M848.7 713.8V720.2M859.7 718.4V727.8M870.6 723.3V732.1M881.9 701.7V710.9M893.7 703.9V715.1M905.5 721V731M917.7 717.7V726.7M930 706.3V712.7M942.5 733.8V742M955.2 706.9V718.7M968.2 704.5V715.7" fill="none" stroke="#505050" stroke-width="1"/>
<polyline fill="none" stroke="#000" stroke-width="3.6" stroke-linejoin="round" stroke-linecap="round" points="309.37,731.26 309.5,731.23 309.64,731.19 309.79,731.16 309.93,731.12 310.08,731.09 310.23,731.05 310.39,731.01 310.54,730.97 310.71,730.93 310.87,730.89 311.04,730.85 311.21,730.81 311.38,730.77 311.56,730.72 311.74,730.68 311.93,730.63 312.11,730.59 312.31,730.54 312.5,730.49 312.7,730.44 312.91,730.39 313.11,730.34 313.33,730.29 313.54,730.24 313.76,730.18 313.99,730.13 314.22,730.07 314.45,730.01 314.69,729.94 314.94,729.86 315.18,729.77 315.44,729.69 315.7,729.61 315.96,729.52 316.23,729.43 316.51,729.34 316.79,729.25 317.07,729.15 317.36,729.06 317.66,728.96 317.96,728.86 318.27,728.76 318.59,728.66 318.91,728.55 319.24,728.44 319.57,728.33 319.91,728.22 320.26,728.11 320.62,727.99 320.98,727.87 321.35,727.75 321.73,727.62 322.11,727.56 322.5,727.51 322.9,727.46 323.31,727.41 323.73,727.36 324.15,727.31 324.58,727.26 325.03,727.2 325.48,727.15 325.94,727.09 326.41,727.03 326.88,726.97 327.37,726.91 327.87,726.85 328.38,726.79 328.89,726.73 329.42,726.69 329.96,726.68 330.51,726.66 331.07,726.65 331.64,726.63 332.22,726.61 332.82,726.6 333.42,726.58 334.04,726.56 334.67,726.55 335.32,726.53 335.97,726.51 336.64,726.48 337.33,726.44 338.02,726.39 338.73,726.34 339.46,726.29 340.2,726.24 340.95,726.18 341.72,726.13 342.5,726.08 343.3,726.02 344.12,725.94 344.95,725.86 345.8,725.77 346.67,725.67 347.55,725.58 348.45,725.49 349.37,725.39 350.31,725.33 351.26,725.63"/>
<polyline fill="none" stroke="#66dd66" stroke-width="1" stroke-linejoin="round"  points="748.96,315.33 749.72,315.33 750.48,315.34 751.24,315.35 752,315.36 752.76,315.37 753.52,315.38 754.29,315.39 755.05,315.4 755.81,315.41 756.57,315.42 757.33,315.43 758.09,315.44 758.85,315.45 759.61,315.47 760.37,315.48 761.14,315.49 761.9,315.5 762.66,315.52 763.42,315.53 764.18,315.54 764.94,315.56 765.7,315.57 766.46,315.58 767.22,315.6 767.99,315.61 768.75,315.63 769.51,315.64 770.27,315.66 771.03,315.67 771.79,315.69 772.55,315.71 773.31,315.72 774.07,315.74 774.84,315.76 775.6,315.78 776.36,315.79 777.12,315.81 777.88,315.83 778.64,315.85 779.4,315.87 780.16,315.89 780.92,315.91 781.69,315.93 782.45,315.95 783.21,315.98 783.97,316 784.73,316.02 785.49,316.04 786.25,316.07 787.01,316.09 787.77,316.12 788.54,316.15 789.3,316.18 790.06,316.21 790.82,316.24 791.58,316.27 792.34,316.3 793.1,316.33 793.86,316.36 794.62,316.4 795.39,316.43 796.15,316.47 796.91,316.5 797.67,316.54 798.43,316.58 799.19,316.62 799.95,316.66 800.71,316.7 801.47,316.74 802.24,316.78 803,316.82 803.76,316.86 804.52,316.91 805.28,316.95 806.04,317 806.8,317.06 807.56,317.11 808.32,317.17 809.09,317.22 809.85,317.28 810.61,317.34 811.37,317.4 812.13,317.46 812.89,317.53 813.65,317.59 814.41,317.66 815.17,317.72 815.94,317.79 816.7,317.86 817.46,317.94 818.22,318.02 818.98,318.11 819.74,318.21 820.5,318.3 821.26,318.4 822.02,318.5 822.79,318.6 823.55,318.7 824.31,318.8 825.07,318.91 825.83,319.02 826.59,319.13 827.35,319.24 828.11,319.36 828.87,319.47 829.64,319.59 830.4,319.71 831.16,319.84 831.92,319.97 832.68,320.1 833.44,320.23 834.2,320.41 834.96,320.65 835.72,320.9 836.49,321.16 837.25,321.45 838.01,321.73 838.77,321.94 839.53,322.15 840.29,322.37 841.05,322.57 841.81,322.75 842.57,322.93 843.34,323.12 844.1,323.3 844.86,323.48 845.62,323.66 846.38,323.84 847.14,324.03 847.9,324.15 848.66,324.28 849.42,324.42 850.19,324.64 850.95,324.84 851.71,325.05 852.47,325.3 853.23,325.56 853.99,325.84 854.75,327.67 855.51,328.1 856.27,328.1 857.04,328.27 857.8,328.51 858.56,328.71 859.32,329.04 860.08,329.42 860.84,329.79 861.6,330.18 862.36,330.58 863.12,330.99 863.89,331.41 864.65,331.84 865.41,332.15 866.17,332.21 866.93,332.27 867.69,332.32 868.45,332.51 869.21,332.78 869.97,333.22 870.74,333.71 871.5,334.21 872.26,334.78 873.02,335.45 873.78,336.14 874.54,336.83 875.3,337.51 876.06,338.13 876.82,338.26 877.59,338.4 878.07,338.6 880.13,339.08 882.09,342.2 883.59,344.58 885.4,345.54 887.11,345.76 888.75,347 889.86,348.89 891.08,351.04 892.57,352.27 894.01,352.98 895.09,354.25 895.84,353.72 897.38,355.31 898.89,357.16 899.66,355.79 901.17,357.46 902.68,358.91 904.22,359.84 904.96,360.81 905.74,360.67 906.5,361.82 907.25,362.96 908,364.68 908.78,369.65 909.56,372.37 910.31,370.61 911.07,372.24 911.84,374.66 912.6,376.24 913.34,376.11 914.11,379.67 914.86,382 915.63,384.25 916.4,385.52 917.15,384.25 917.92,390.19 918.68,391.37 919.43,388.03 920.21,394.94 920.97,396.78 921.73,392.65 922.49,386.23 923.25,395.95 924.01,395.02 924.75,396.61"/>
<polyline fill="none" stroke="#e05050" stroke-width="1" stroke-linejoin="round"  points="749.7,324.21 783.81,324.74 802.98,325.36 811.78,325.97 819.02,326.9 825.12,328.17 829.83,329.14 832.72,330.59 834.94,332.17 837.09,334.11 838.69,336.18 840.6,339.39 842.41,341.32 844.52,344.22 846.78,346.86 848.91,349.5 850.94,352.36 852.48,355.22 853.42,357.86 854.08,360.94 854.33,364.46 854.58,368.85 854.87,371.49 855.4,372.81 856.27,369.29 857.12,371.05 858.11,371.85 858.76,372.37 859.55,374.13 860.33,376.77 861.43,381.74 862.61,387.59 863.59,393.44 864.32,399.29 864.68,403.38 865.23,406.59 866.14,407.78 866.48,410.42 866.93,412.62 867.67,413.01 868.68,416.27 869.52,419.74 870.45,424.45"/>
<path d="M747.48 304.66h2.95v2.95h-2.95zM748.24 304.68h2.95v2.95h-2.95zM749 304.7h2.95v2.95h-2.95zM749.77 304.72h2.95v2.95h-2.95zM750.53 304.74h2.95v2.95h-2.95zM751.29 304.76h2.95v2.95h-2.95zM752.05 304.77h2.95v2.95h-2.95zM752.81 304.79h2.95v2.95h-2.95zM753.57 304.8h2.95v2.95h-2.95zM754.33 304.82h2.95v2.95h-2.95zM755.09 304.83h2.95v2.95h-2.95zM755.85 304.85h2.95v2.95h-2.95zM756.62 304.87h2.95v2.95h-2.95zM757.38 304.88h2.95v2.95h-2.95zM758.14 304.9h2.95v2.95h-2.95zM758.9 304.92h2.95v2.95h-2.95zM759.66 304.94h2.95v2.95h-2.95zM760.42 304.95h2.95v2.95h-2.95zM761.18 304.97h2.95v2.95h-2.95zM761.94 304.99h2.95v2.95h-2.95zM762.7 305.01h2.95v2.95h-2.95zM763.47 305.03h2.95v2.95h-2.95zM764.23 305.05h2.95v2.95h-2.95zM764.99 305.07h2.95v2.95h-2.95zM765.75 305.09h2.95v2.95h-2.95zM766.51 305.11h2.95v2.95h-2.95zM767.27 305.14h2.95v2.95h-2.95zM768.03 305.16h2.95v2.95h-2.95zM768.79 305.18h2.95v2.95h-2.95zM769.55 305.2h2.95v2.95h-2.95zM770.32 305.23h2.95v2.95h-2.95zM771.08 305.26h2.95v2.95h-2.95zM771.84 305.3h2.95v2.95h-2.95zM772.6 305.33h2.95v2.95h-2.95zM773.36 305.37h2.95v2.95h-2.95zM774.12 305.41h2.95v2.95h-2.95zM774.88 305.45h2.95v2.95h-2.95zM775.64 305.48h2.95v2.95h-2.95zM776.4 305.52h2.95v2.95h-2.95zM777.17 305.57h2.95v2.95h-2.95zM777.93 305.61h2.95v2.95h-2.95zM778.69 305.65h2.95v2.95h-2.95zM779.45 305.69h2.95v2.95h-2.95zM780.21 305.74h2.95v2.95h-2.95zM780.97 305.78h2.95v2.95h-2.95zM781.73 305.83h2.95v2.95h-2.95zM782.49 305.88h2.95v2.95h-2.95zM783.25 305.93h2.95v2.95h-2.95zM784.02 305.97h2.95v2.95h-2.95zM784.78 306.01h2.95v2.95h-2.95zM785.54 306.06h2.95v2.95h-2.95zM786.3 306.1h2.95v2.95h-2.95zM787.06 306.15h2.95v2.95h-2.95zM787.82 306.2h2.95v2.95h-2.95zM788.58 306.25h2.95v2.95h-2.95zM789.34 306.29h2.95v2.95h-2.95zM790.1 306.34h2.95v2.95h-2.95zM790.87 306.4h2.95v2.95h-2.95zM791.63 306.45h2.95v2.95h-2.95zM792.39 306.5h2.95v2.95h-2.95zM793.15 306.56h2.95v2.95h-2.95zM793.91 306.6h2.95v2.95h-2.95zM794.67 306.64h2.95v2.95h-2.95zM795.43 306.69h2.95v2.95h-2.95zM796.19 306.74h2.95v2.95h-2.95zM796.95 306.78h2.95v2.95h-2.95zM797.72 306.83h2.95v2.95h-2.95zM798.48 306.88h2.95v2.95h-2.95zM799.24 306.93h2.95v2.95h-2.95zM800 306.98h2.95v2.95h-2.95zM800.76 307.03h2.95v2.95h-2.95zM801.52 307.08h2.95v2.95h-2.95zM802.28 307.13h2.95v2.95h-2.95zM803.04 307.18h2.95v2.95h-2.95zM803.8 307.23h2.95v2.95h-2.95zM804.57 307.28h2.95v2.95h-2.95zM805.33 307.34h2.95v2.95h-2.95zM806.09 307.39h2.95v2.95h-2.95zM806.85 307.45h2.95v2.95h-2.95zM807.61 307.51h2.95v2.95h-2.95zM808.37 307.58h2.95v2.95h-2.95zM809.13 307.65h2.95v2.95h-2.95zM809.89 307.72h2.95v2.95h-2.95zM810.65 307.8h2.95v2.95h-2.95zM811.42 307.87h2.95v2.95h-2.95zM812.18 307.95h2.95v2.95h-2.95zM812.94 308.04h2.95v2.95h-2.95zM813.7 308.15h2.95v2.95h-2.95zM814.46 308.28h2.95v2.95h-2.95zM815.22 308.4h2.95v2.95h-2.95zM815.98 308.53h2.95v2.95h-2.95zM816.74 308.66h2.95v2.95h-2.95zM817.5 308.79h2.95v2.95h-2.95zM818.27 308.93h2.95v2.95h-2.95zM819.03 309.07h2.95v2.95h-2.95zM819.79 309.22h2.95v2.95h-2.95zM820.55 309.37h2.95v2.95h-2.95zM821.31 309.53h2.95v2.95h-2.95zM822.07 309.66h2.95v2.95h-2.95zM822.83 309.77h2.95v2.95h-2.95zM823.59 309.87h2.95v2.95h-2.95zM824.35 309.97h2.95v2.95h-2.95zM825.12 310.08h2.95v2.95h-2.95zM825.88 310.17h2.95v2.95h-2.95zM826.64 310.22h2.95v2.95h-2.95zM827.4 310.27h2.95v2.95h-2.95zM828.16 310.31h2.95v2.95h-2.95zM828.92 310.36h2.95v2.95h-2.95zM829.68 310.48h2.95v2.95h-2.95zM830.44 310.64h2.95v2.95h-2.95zM831.21 310.81h2.95v2.95h-2.95zM831.97 311.13h2.95v2.95h-2.95zM832.73 311.46h2.95v2.95h-2.95zM833.49 311.85h2.95v2.95h-2.95zM834.25 312.28h2.95v2.95h-2.95zM835.01 312.75h2.95v2.95h-2.95zM835.77 313.28h2.95v2.95h-2.95zM836.53 313.82h2.95v2.95h-2.95zM837.29 314.31h2.95v2.95h-2.95zM838.06 314.81h2.95v2.95h-2.95zM838.82 315.13h2.95v2.95h-2.95zM839.58 315.46h2.95v2.95h-2.95zM840.34 315.77h2.95v2.95h-2.95zM841.1 316.08h2.95v2.95h-2.95zM841.86 316.38h2.95v2.95h-2.95zM842.62 316.69h2.95v2.95h-2.95zM843.38 316.95h2.95v2.95h-2.95zM844.14 317.22h2.95v2.95h-2.95zM844.91 317.52h2.95v2.95h-2.95zM845.67 317.83h2.95v2.95h-2.95zM846.43 318.14h2.95v2.95h-2.95zM847.19 318.45h2.95v2.95h-2.95zM847.95 318.77h2.95v2.95h-2.95zM848.71 319.08h2.95v2.95h-2.95zM849.47 319.4h2.95v2.95h-2.95zM850.23 319.74h2.95v2.95h-2.95zM850.99 320.24h2.95v2.95h-2.95zM851.76 320.84h2.95v2.95h-2.95zM852.52 321.6h2.95v2.95h-2.95zM853.28 323.16h2.95v2.95h-2.95zM854.04 324.29h2.95v2.95h-2.95zM854.8 323.81h2.95v2.95h-2.95zM855.56 323.82h2.95v2.95h-2.95zM856.32 323.97h2.95v2.95h-2.95zM857.08 324.12h2.95v2.95h-2.95zM857.84 324.58h2.95v2.95h-2.95zM858.61 325.13h2.95v2.95h-2.95zM859.37 325.85h2.95v2.95h-2.95zM860.13 326.74h2.95v2.95h-2.95zM860.89 327.55h2.95v2.95h-2.95zM861.65 328.24h2.95v2.95h-2.95zM862.41 328.91h2.95v2.95h-2.95zM863.17 329.51h2.95v2.95h-2.95zM863.93 329.99h2.95v2.95h-2.95zM864.69 330.24h2.95v2.95h-2.95zM865.46 330.34h2.95v2.95h-2.95zM866.22 330.22h2.95v2.95h-2.95zM866.98 330.4h2.95v2.95h-2.95zM867.74 330.79h2.95v2.95h-2.95zM868.5 331.31h2.95v2.95h-2.95zM869.26 331.83h2.95v2.95h-2.95zM870.02 331.7h2.95v2.95h-2.95zM870.78 331.69h2.95v2.95h-2.95zM871.54 333.01h2.95v2.95h-2.95zM872.31 334.14h2.95v2.95h-2.95zM873.07 335.19h2.95v2.95h-2.95zM873.83 336.11h2.95v2.95h-2.95zM874.59 336.55h2.95v2.95h-2.95zM875.35 336.69h2.95v2.95h-2.95zM876.11 336.57h2.95v2.95h-2.95zM876.81 336.64h2.95v2.95h-2.95zM877.59 336.5h2.95v2.95h-2.95zM878.36 337.21h2.95v2.95h-2.95zM879.15 338.18h2.95v2.95h-2.95zM879.91 339.19h2.95v2.95h-2.95zM880.67 340.59h2.95v2.95h-2.95zM881.43 341.83h2.95v2.95h-2.95zM882.21 343.01h2.95v2.95h-2.95zM882.95 343.19h2.95v2.95h-2.95zM883.7 342.71h2.95v2.95h-2.95zM884.44 342.13h2.95v2.95h-2.95zM885.21 342.13h2.95v2.95h-2.95zM886.01 342.62h2.95v2.95h-2.95zM886.76 343.5h2.95v2.95h-2.95zM887.51 344.29h2.95v2.95h-2.95zM888.25 345.43h2.95v2.95h-2.95zM889.01 346.62h2.95v2.95h-2.95zM889.76 347.59h2.95v2.95h-2.95zM890.54 348.47h2.95v2.95h-2.95zM891.32 349.35h2.95v2.95h-2.95zM892.08 349.35h2.95v2.95h-2.95zM892.85 350.58h2.95v2.95h-2.95zM893.61 351.99h2.95v2.95h-2.95zM894.35 350.27h2.95v2.95h-2.95zM895.15 351.41h2.95v2.95h-2.95zM895.9 352.47h2.95v2.95h-2.95zM896.64 352.78h2.95v2.95h-2.95zM897.42 353.48h2.95v2.95h-2.95zM898.19 350.84h2.95v2.95h-2.95zM898.95 351.81h2.95v2.95h-2.95zM899.7 352.87h2.95v2.95h-2.95zM900.46 353.26h2.95v2.95h-2.95zM901.21 353.75h2.95v2.95h-2.95zM901.98 354.36h2.95v2.95h-2.95zM902.75 354.89h2.95v2.95h-2.95zM903.49 356.47h2.95v2.95h-2.95zM904.26 355.55h2.95v2.95h-2.95zM905.02 357.09h2.95v2.95h-2.95zM905.81 359.2h2.95v2.95h-2.95zM906.53 363.33h2.95v2.95h-2.95zM907.31 370.59h2.95v2.95h-2.95zM908.07 373.23h2.95v2.95h-2.95zM908.81 371.34h2.95v2.95h-2.95zM909.6 372.57h2.95v2.95h-2.95zM910.36 376.22h2.95v2.95h-2.95zM911.12 377.63h2.95v2.95h-2.95zM911.86 377.14h2.95v2.95h-2.95zM912.63 382.42h2.95v2.95h-2.95zM913.39 385.81h2.95v2.95h-2.95zM914.16 389.15h2.95v2.95h-2.95zM914.92 389.5h2.95v2.95h-2.95zM915.68 385.19h2.95v2.95h-2.95zM916.46 389.81h2.95v2.95h-2.95zM917.21 389.37h2.95v2.95h-2.95zM917.96 391.97h2.95v2.95h-2.95zM918.73 398.12h2.95v2.95h-2.95zM919.49 395.53h2.95v2.95h-2.95zM920.26 392.41h2.95v2.95h-2.95zM921.01 389.37h2.95v2.95h-2.95zM921.78 391.04h2.95v2.95h-2.95zM922.54 397.33h2.95v2.95h-2.95zM923.3 399.66h2.95v2.95h-2.95z" fill="none" stroke="#808080" stroke-width="1.25"/>
<polyline fill="none" stroke="#333" stroke-width="1" stroke-linejoin="round"  points="748.96,307.41 749.72,307.43 750.48,307.45 751.24,307.47 752,307.49 752.76,307.51 753.52,307.52 754.29,307.54 755.05,307.55 755.81,307.57 756.57,307.58 757.33,307.6 758.09,307.62 758.85,307.63 759.61,307.65 760.37,307.67 761.14,307.69 761.9,307.7 762.66,307.72 763.42,307.74 764.18,307.76 764.94,307.78 765.7,307.8 766.46,307.82 767.22,307.84 767.99,307.86 768.75,307.89 769.51,307.91 770.27,307.93 771.03,307.95 771.79,307.98 772.55,308.01 773.31,308.05 774.07,308.08 774.84,308.11 775.6,308.12 776.36,308.13 777.12,308.14 777.88,308.15 778.64,308.16 779.4,308.17 780.16,308.18 780.92,308.19 781.69,308.21 782.45,308.22 783.21,308.23 783.97,308.24 784.73,308.25 785.49,308.26 786.25,308.27 787.01,308.28 787.77,308.28 788.54,308.29 789.3,308.32 790.06,308.35 790.82,308.39 791.58,308.42 792.34,308.46 793.1,308.49 793.86,308.53 794.62,308.57 795.39,308.59 796.15,308.62 796.91,308.65 797.67,308.67 798.43,308.7 799.19,308.73 799.95,308.76 800.71,308.79 801.47,308.83 802.24,308.88 803,308.92 803.76,308.97 804.52,309.01 805.28,309.06 806.04,309.1 806.8,309.15 807.56,309.2 808.32,309.25 809.09,309.31 809.85,309.37 810.61,309.43 811.37,309.49 812.13,309.55 812.89,309.61 813.65,309.67 814.41,309.74 815.17,309.84 815.94,309.95 816.7,310.06 817.46,310.17 818.22,310.27 818.98,310.38 819.74,310.49 820.5,310.6 821.26,310.72 822.02,310.84 822.79,310.97 823.55,311.09 824.31,311.28 825.07,311.48 825.83,311.68 826.59,311.89 827.35,312.09 828.11,312.2 828.87,312.32 829.64,312.45 830.4,312.57 831.16,312.77 831.92,312.98 832.68,313.08 833.44,313.33 834.2,313.57 834.96,313.89 835.72,314.24 836.49,314.63 837.25,315.17 838.01,315.76 838.77,316.3 839.53,316.86 840.29,317.24 841.05,317.59 841.81,317.92 842.57,318.27 843.34,318.59 844.1,318.92 844.86,319.21 845.62,319.52 846.38,319.83 847.14,320.15 847.9,320.47 848.66,320.81 849.42,321.14 850.19,321.46 850.95,321.71 851.71,321.98 852.47,322.39 853.23,322.92 853.99,323.84 854.75,325.76 855.51,327.04 856.27,326.56 857.04,326.57 857.8,326.72 858.56,326.87 859.32,327.33 860.08,327.88 860.84,328.6 861.6,329.25 862.36,329.79 863.12,330.24 863.89,330.77 864.65,331.29 865.41,331.8 866.17,332.14 866.93,332.39 867.69,332.46 868.45,332.74 869.21,333.2 869.97,333.53 870.74,333.94 871.5,333.84 872.26,335.47 873.02,336.08 873.78,336.35 874.54,336.92 875.3,337.35 876.06,337.62 876.82,338.12 877.59,338.34 878.28,338.63 879.07,338.66 879.84,339.22 880.63,339.73 881.39,340.32 882.15,341.95 882.91,343.33 883.69,344.42 884.42,345.26 885.17,345.7 885.91,345.72 886.68,345.99 887.48,346.38 888.24,346.92 888.99,347.49 889.73,349.03 890.48,350.63 891.24,351.7 892.02,352.15 892.79,352.96 893.56,353.02 894.33,353.75 895.09,354.5 895.83,354.04 896.63,354.67 897.38,355.61 898.11,356.39 898.89,357.51 899.66,356.31 900.42,357.18 901.18,357.87 901.94,358.51 902.68,359.3 903.45,359.83 904.22,360.44 904.96,361.3 905.74,361.39 906.5,362.37 907.29,363.19 908.01,365.67 908.79,370.18 909.55,372.35 910.29,370.64 911.07,372.28 911.84,374.43 912.6,376.18 913.34,376.07 914.11,379.29 914.86,381.18 915.63,383.69 916.4,385.16 917.15,383.94 917.93,390.53 918.68,391.48 919.43,387.41 920.21,394.57 920.97,397.16 921.73,392.85 922.49,385.88 923.25,396.34 924.01,394.81 924.77,396.3"/>
<path d="M745.5 212.5H1011.0V424.5H745.5ZM772.14 424.5v-2.1M772.14 212.5v2.1M787.73 424.5v-2.1M787.73 212.5v2.1M798.78 424.5v-2.1M798.78 212.5v2.1M807.36 424.5v-2.1M807.36 212.5v2.1M814.37 424.5v-2.1M814.37 212.5v2.1M820.29 424.5v-2.1M820.29 212.5v2.1M825.42 424.5v-2.1M825.42 212.5v2.1M829.95 424.5v-2.1M829.95 212.5v2.1M834 424.5v-4.2M834 212.5v4.2M860.64 424.5v-2.1M860.64 212.5v2.1M876.23 424.5v-2.1M876.23 212.5v2.1M887.28 424.5v-2.1M887.28 212.5v2.1M895.86 424.5v-2.1M895.86 212.5v2.1M902.87 424.5v-2.1M902.87 212.5v2.1M908.79 424.5v-2.1M908.79 212.5v2.1M913.92 424.5v-2.1M913.92 212.5v2.1M918.45 424.5v-2.1M918.45 212.5v2.1M922.5 424.5v-4.2M922.5 212.5v4.2M949.14 424.5v-2.1M949.14 212.5v2.1M964.73 424.5v-2.1M964.73 212.5v2.1M975.78 424.5v-2.1M975.78 212.5v2.1M984.36 424.5v-2.1M984.36 212.5v2.1M991.37 424.5v-2.1M991.37 212.5v2.1M997.29 424.5v-2.1M997.29 212.5v2.1M1002.42 424.5v-2.1M1002.42 212.5v2.1M1006.95 424.5v-2.1M1006.95 212.5v2.1M745.5 220.07h2.6M1011.0 220.07h-2.6M745.5 227.64h2.6M1011.0 227.64h-2.6M745.5 235.21h2.6M1011.0 235.21h-2.6M745.5 242.79h5.3M1011.0 242.79h-5.3M745.5 250.36h2.6M1011.0 250.36h-2.6M745.5 257.93h2.6M1011.0 257.93h-2.6M745.5 265.5h2.6M1011.0 265.5h-2.6M745.5 273.07h5.3M1011.0 273.07h-5.3M745.5 280.64h2.6M1011.0 280.64h-2.6M745.5 288.21h2.6M1011.0 288.21h-2.6M745.5 295.79h2.6M1011.0 295.79h-2.6M745.5 303.36h5.3M1011.0 303.36h-5.3M745.5 310.93h2.6M1011.0 310.93h-2.6M745.5 318.5h2.6M1011.0 318.5h-2.6M745.5 326.07h2.6M1011.0 326.07h-2.6M745.5 333.64h5.3M1011.0 333.64h-5.3M745.5 341.21h2.6M1011.0 341.21h-2.6M745.5 348.79h2.6M1011.0 348.79h-2.6M745.5 356.36h2.6M1011.0 356.36h-2.6M745.5 363.93h5.3M1011.0 363.93h-5.3M745.5 371.5h2.6M1011.0 371.5h-2.6M745.5 379.07h2.6M1011.0 379.07h-2.6M745.5 386.64h2.6M1011.0 386.64h-2.6M745.5 394.21h5.3M1011.0 394.21h-5.3M745.5 401.79h2.6M1011.0 401.79h-2.6M745.5 409.36h2.6M1011.0 409.36h-2.6M745.5 416.93h2.6M1011.0 416.93h-2.6" fill="none" stroke="#6a6a6a" stroke-width="1"/>
<path d="M491 222.5H543.6" stroke="#e46a6a" stroke-width="1" fill="none"/>
<path d="M491 246.5H543.6" stroke="#6ae46a" stroke-width="1" fill="none"/>
<text x="562.3" y="222.3" font-size="18.3" fill="#d42020" textLength="118.2" lengthAdjust="spacingAndGlyphs" xml:space="preserve">DISK_1  0.070</text>
<text x="562.3" y="246.2" font-size="18.3" fill="#22d822" textLength="118.2" lengthAdjust="spacingAndGlyphs" xml:space="preserve">DISK_2  0.930</text>
<g fill="#000"><text x="679.2" y="175.5" font-size="21.6" text-anchor="middle" textLength="321.5" lengthAdjust="spacingAndGlyphs">FINAL_NS/ESO234-049_dd.outgal</text><text x="298" y="193.3" font-size="17" text-anchor="end">14</text><text x="298" y="258.3" font-size="17" text-anchor="end">16</text><text x="298" y="327" font-size="17" text-anchor="end">18</text><text x="298" y="396" font-size="17" text-anchor="end">20</text><text x="298" y="465.2" font-size="17" text-anchor="end">22</text><text x="298" y="533.8" font-size="17" text-anchor="end">24</text><text x="298" y="602.5" font-size="17" text-anchor="end">26</text><text x="298" y="666" font-size="17" text-anchor="end">28</text><text x="296.8" y="682.6" font-size="17" text-anchor="end">1</text><text x="298" y="731.6" font-size="17" text-anchor="end">0</text><text x="296.8" y="779" font-size="17" text-anchor="end">-1</text><text x="302.5" y="800" font-size="17" text-anchor="middle">0</text><text x="428" y="800" font-size="17" text-anchor="middle">20</text><text x="553.5" y="800" font-size="17" text-anchor="middle">40</text><text x="679" y="800" font-size="17" text-anchor="middle">60</text><text x="804.5" y="800" font-size="17" text-anchor="middle">80</text><text x="930" y="800" font-size="17" text-anchor="middle">100</text><text x="1055.5" y="800" font-size="17" text-anchor="middle">120</text><text x="678.7" y="817.7" font-size="17" text-anchor="middle" textLength="68.4" lengthAdjust="spacingAndGlyphs">sma (pix)</text><text transform="translate(266.6 424.6) rotate(-90)" font-size="17" text-anchor="middle">μ</text><text transform="translate(270.4 725.8) rotate(-90)" font-size="17" text-anchor="middle" xml:space="preserve">Δ μ</text><text x="741" y="221.9" font-size="17" text-anchor="end">14</text><text x="741" y="248.2" font-size="17" text-anchor="end">16</text><text x="741" y="278.6" font-size="17" text-anchor="end">18</text><text x="741" y="308.8" font-size="17" text-anchor="end">20</text><text x="741" y="339.2" font-size="17" text-anchor="end">22</text><text x="741" y="369.4" font-size="17" text-anchor="end">24</text><text x="741" y="399.8" font-size="17" text-anchor="end">26</text><text x="741" y="424.1" font-size="17" text-anchor="end">28</text><text x="745.5" y="445.7" font-size="17" text-anchor="middle">1</text><text x="834" y="445.7" font-size="17" text-anchor="middle">10</text><text x="922.5" y="445.7" font-size="17" text-anchor="middle">100</text><text x="1011" y="445.7" font-size="17" text-anchor="middle">1000</text><text x="878" y="463.5" font-size="17" text-anchor="middle" textLength="68.4" lengthAdjust="spacingAndGlyphs">sma (pix)</text><text transform="translate(709.4 318.3) rotate(-90)" font-size="17" text-anchor="middle">μ</text><text x="223" y="848.1" font-size="8.6" fill="#222" textLength="264.5" lengthAdjust="spacingAndGlyphs">/data/P4STORE/ESO234-049/FINAL_NS/ESO234-049_dd.outgal_1dprof</text><text x="934" y="848.1" font-size="8.6" fill="#222" textLength="156.5" lengthAdjust="spacingAndGlyphs" xml:space="preserve">s4g@fys091005  Thu Jun  5 19:55:08 2014</text></g>
</svg></body></html>
